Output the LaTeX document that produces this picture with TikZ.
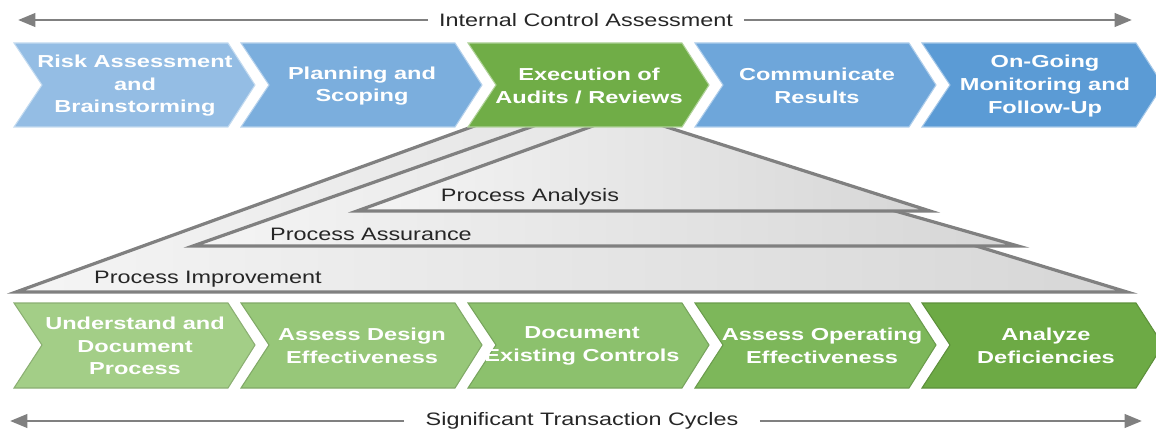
\documentclass[tikz,border=0pt]{standalone}
\usepackage{fontspec}
\setmainfont{Liberation Sans}[FakeStretch=1.3]
\newfontfamily\stepfont{Liberation Sans}[FakeStretch=1.36]
\usetikzlibrary{arrows.meta}
\definecolor{riskblue}{HTML}{94BDE4}
\definecolor{planblue}{HTML}{7BAEDD}
\definecolor{execgreen}{HTML}{70AD47}
\definecolor{commblue}{HTML}{6EA6DA}
\definecolor{monblue}{HTML}{5B9BD5}
\definecolor{undgreen}{HTML}{A3CE87}
\definecolor{desgreen}{HTML}{97C779}
\definecolor{docgreen}{HTML}{8CC16D}
\definecolor{opgreen}{HTML}{7DB75A}
\definecolor{defgreen}{HTML}{6DAA45}
\definecolor{linegray}{HTML}{808080}
\begin{document}
\begin{tikzpicture}[x=0.75pt,y=-0.75pt,
  arr/.style={linegray,line width=2.2pt,-{Triangle[length=13pt,width=10pt]}},
  steptext/.style={text=white,font=\stepfont\bfseries\fontsize{13}{16.9}\selectfont,align=center,inner sep=0pt},
  layertext/.style={text=black!85,font=\fontsize{13.5}{16}\selectfont,inner sep=0pt},
  cycletext/.style={text=black!85,font=\fontsize{13.5}{16}\selectfont},
  tri/.style={draw=linegray,line width=2.4pt,line join=miter,left color=gray!8,right color=gray!32},
  chevtop/.style={fill=#1,draw=#1!55!white,line width=0.8pt},
  chevbot/.style={fill=#1,draw=#1!85!black,line width=0.8pt}]
\useasboundingbox (0,0) rectangle (1156,431);

\draw[tri] (16,292) -- (524,108) -- (1127,292) -- cycle;
\draw[tri] (193,246) -- (562,116) -- (1018,246) -- cycle;
\draw[tri] (357,211) -- (626,114) -- (930,211) -- cycle;
\node[layertext] (analysis) at (530,197) {Process Analysis};
\node[layertext] (assurance) at (371,234) {Process Assurance};
\node[layertext] (improvement) at (208,279) {Process Improvement};

\draw[chevtop=riskblue] (14,43) -- (228,43) -- (255,85) -- (228,127) -- (14,127) -- (42,85) -- cycle;
\draw[chevtop=planblue] (241,43) -- (455,43) -- (482,85) -- (455,127) -- (241,127) -- (269,85) -- cycle;
\draw[chevtop=execgreen] (468,43) -- (682,43) -- (709,85) -- (682,127) -- (468,127) -- (496,85) -- cycle;
\draw[chevtop=commblue] (695,43) -- (909,43) -- (936,85) -- (909,127) -- (695,127) -- (723,85) -- cycle;
\draw[chevtop=monblue] (922,43) -- (1136,43) -- (1163,85) -- (1136,127) -- (922,127) -- (950,85) -- cycle;
\node[steptext] (risk) at (135,86) {Risk Assessment\\and\\Brainstorming};
\node[steptext] (plan) at (362,86) {Planning and\\Scoping};
\node[steptext] (exec) at (589,86) {Execution of\\Audits / Reviews};
\node[steptext] (comm) at (817,86) {Communicate\\Results};
\node[steptext] (mon) at (1045,86) {On-Going\\Monitoring and\\Follow-Up};

\draw[chevbot=undgreen] (14,303) -- (228,303) -- (255,345) -- (228,388) -- (14,388) -- (42,345) -- cycle;
\draw[chevbot=desgreen] (241,303) -- (455,303) -- (482,345) -- (455,388) -- (241,388) -- (269,345) -- cycle;
\draw[chevbot=docgreen] (468,303) -- (682,303) -- (709,345) -- (682,388) -- (468,388) -- (496,345) -- cycle;
\draw[chevbot=opgreen] (695,303) -- (909,303) -- (936,345) -- (909,388) -- (695,388) -- (723,345) -- cycle;
\draw[chevbot=defgreen] (922,303) -- (1136,303) -- (1163,345) -- (1136,388) -- (922,388) -- (950,345) -- cycle;
\node[steptext] (und) at (135,346) {Understand and\\Document\\Process};
\node[steptext] (des) at (362,346) {Assess Design\\Effectiveness};
\node[steptext] (doc) at (582,346) {Document\\Existing Controls};
\node[steptext] (op) at (822,346) {Assess Operating\\Effectiveness};
\node[steptext] (def) at (1046,346) {Analyze\\Deficiencies};

\coordinate (icaL) at (18,20);
\coordinate (icaR) at (1132,20);
\node[cycletext,inner xsep=8pt] (ica) at (586,20) {Internal Control Assessment};
\draw[arr] (ica) -- (icaL);
\draw[arr] (ica) -- (icaR);
\coordinate (stcL) at (10,421);
\coordinate (stcR) at (1142,421);
\node[cycletext,inner xsep=16pt] (stc) at (582,421) {Significant Transaction Cycles};
\draw[arr] (stc) -- (stcL);
\draw[arr] (stc) -- (stcR);
\end{tikzpicture}
\end{document}
